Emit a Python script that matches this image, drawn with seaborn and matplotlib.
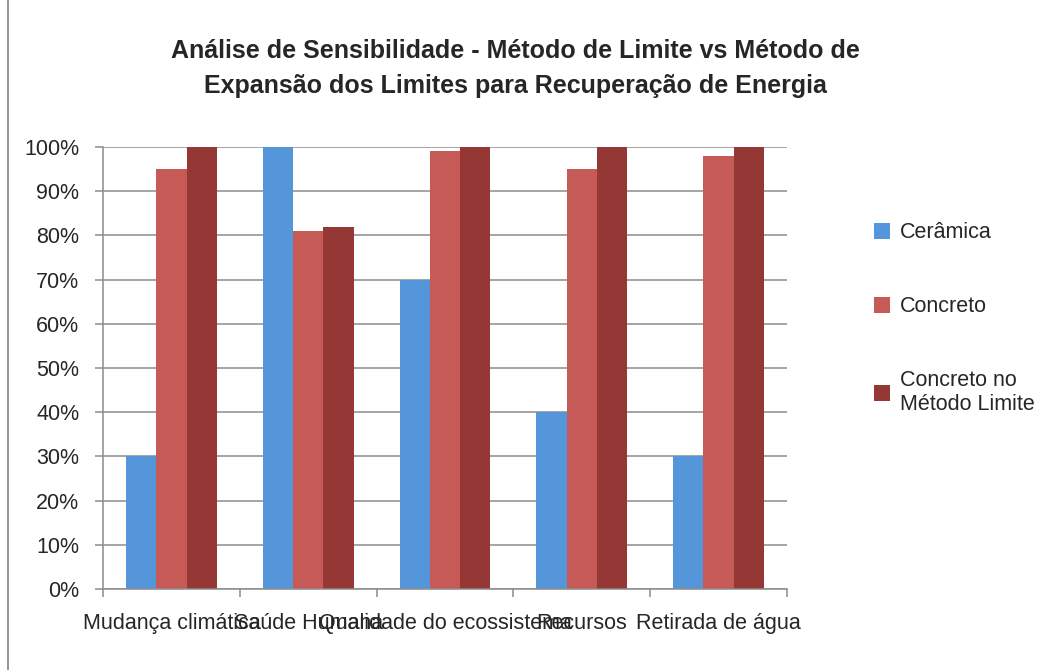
import pandas as pd
import numpy as np
import matplotlib
matplotlib.use("Agg")
import matplotlib.pyplot as plt
import seaborn as sns
from matplotlib.patches import Rectangle, Patch
from matplotlib.ticker import PercentFormatter, FixedLocator

categories = ["Mudança climática", "Saúde Humana", "Qualidade do ecossistema", "Recursos", "Retirada de água"]
series = ["Cerâmica", "Concreto", "Concreto no\nMétodo Limite"]
ceramica = [30, 100, 70, 40, 30]
concreto = [95, 81, 99, 95, 98]
concreto_limite = [100, 82, 100, 100, 100]
colors = ["#5596DA", "#C55A57", "#953735"]

df = pd.DataFrame({
    "categoria": categories * 3,
    "serie": [series[0]] * 5 + [series[1]] * 5 + [series[2]] * 5,
    "valor": ceramica + concreto + concreto_limite,
})

sns.set_style("white")
plt.rcParams['font.family'] = ['Liberation Sans', 'DejaVu Sans']

fig = plt.figure(figsize=(10.54, 6.70), dpi=100)
ax = fig.add_axes([0.0977, 0.1209, 0.649, 0.6597])

sns.barplot(data=df, x="categoria", y="valor", hue="serie", palette=colors,
            width=0.665, saturation=1, ax=ax, legend=False, edgecolor="none")

ax.set_ylim(0, 100)
ax.set_xlim(-0.5, 4.5)
ax.yaxis.set_major_locator(FixedLocator(np.arange(0, 101, 10)))
ax.yaxis.set_major_formatter(PercentFormatter(decimals=0))
ax.grid(axis="y", color="#8c8c8c", linewidth=1.1)
ax.set_axisbelow(True)
ax.set_xlabel("")
ax.set_ylabel("")

# ticks between categories like Excel
ax.xaxis.set_minor_locator(FixedLocator(np.arange(-0.5, 5.0, 1.0)))
ax.tick_params(axis="x", which="major", length=0, labelsize=15.5, pad=17)
ax.tick_params(axis="x", which="minor", length=6, color="#8c8c8c", width=1.1, direction="out")
ax.tick_params(axis="y", length=6, color="#8c8c8c", width=1.1, direction="out", labelsize=15.5, pad=11)
ax.tick_params(bottom=True, left=True, which="both")

for s in ["top", "right"]:
    ax.spines[s].set_visible(False)
for s in ["left", "bottom"]:
    ax.spines[s].set_color("#8c8c8c")
    ax.spines[s].set_linewidth(1.1)

fig.suptitle("Análise de Sensibilidade - Método de Limite vs Método de\nExpansão dos Limites para Recuperação de Energia",
             x=0.489, y=0.942, fontsize=18, fontweight="bold", linespacing=1.6)

handles = [Patch(facecolor=c, edgecolor="none") for c in colors]
fig.legend(handles, series, loc="upper left", bbox_to_anchor=(0.811, 0.697),
           frameon=False, fontsize=15.5, labelspacing=2.45, handlelength=0.75,
           handleheight=0.75, handletextpad=0.45)

fig.patches.append(Rectangle((0.008, -0.05), 1.1, 1.2, transform=fig.transFigure,
                             fill=False, edgecolor="#8c8c8c", linewidth=1.3))

fig.savefig("out.png", dpi=100)
